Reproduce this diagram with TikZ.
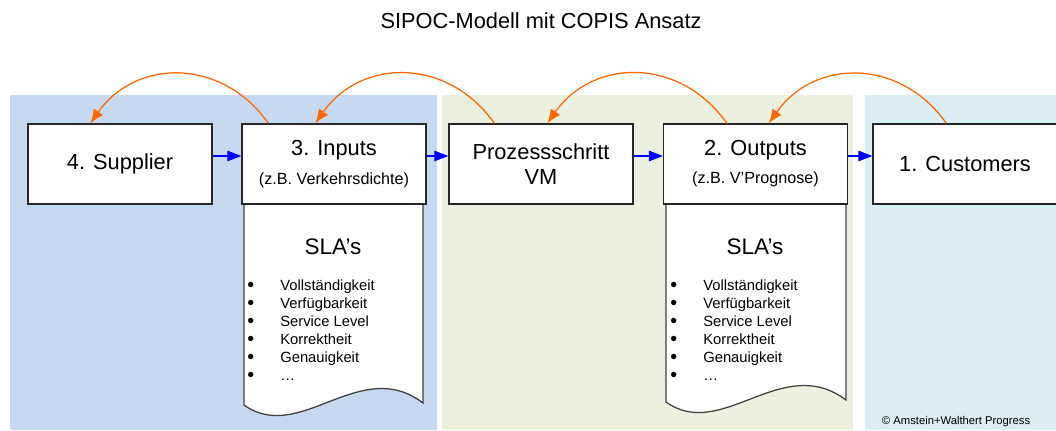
\documentclass[tikz,border=0pt]{standalone}
\usepackage{fontspec}
\setmainfont{Liberation Sans}
\usepackage{tikz}
\usetikzlibrary{arrows.meta}
\usepackage{xcolor}

\definecolor{panelblue}{RGB}{198,217,240}
\definecolor{panelgreen}{RGB}{235,241,222}
\definecolor{panelcyan}{RGB}{218,238,243}
\definecolor{copisorange}{RGB}{255,102,0}

\newcommand{\boxsub}[1]{{\fontsize{11.5}{14}\selectfont #1}}
\newcommand{\itm}{\makebox[23.5pt][l]{\raisebox{-0.5pt}{\fontsize{14}{12}\selectfont\textbullet}}}

\begin{document}
\begin{tikzpicture}[
    x=0.025cm, y=0.025cm,
    >={Triangle[length=10pt,width=7.5pt]},
    box/.style={draw=black!85, line width=0.9pt, fill=white, align=center, minimum width=4.6cm, minimum height=2cm, inner sep=0pt, font=\fontsize{15.5}{18}\selectfont},
    doc/.style={draw=black!75, line width=0.9pt, fill=white},
    flow/.style={->, blue, line width=0.8pt},
    back/.style={-{Latex[length=10pt,width=8pt]}, draw=copisorange, line width=0.9pt, out=125, in=55, looseness=1.15},
    sla/.style={font=\fontsize{16}{19}\selectfont},
    items/.style={align=left, anchor=north west, inner sep=0pt, font=\fontsize{10.5}{12.8}\selectfont}
]
\useasboundingbox (0,0) rectangle (1056,430);
\clip (0,0) rectangle (1056,430);

% background panels
\fill[panelblue] (10,0) rectangle (437,335);
\fill[panelgreen] (442,0) rectangle (853,335);
\fill[panelcyan] (865,0) rectangle (1056,335);

\node[font=\fontsize{15.5}{18}\selectfont] (title) at (541,409) {SIPOC-Modell mit COPIS Ansatz};

% SLA documents
\draw[doc] (244,226) -- (244,25) .. controls (300,-15) and (360,75) .. (423,27) -- (423,226) -- cycle;
\draw[doc] (666,226) -- (666,28) .. controls (722,-12) and (782,78) .. (846,30) -- (846,226) -- cycle;

\node[sla] (insla) at (333,183) {SLA’s};
\node[items] (inlist) at (247,150) {\itm Vollständigkeit\\\itm Verfügbarkeit\\\itm Service Level\\\itm Korrektheit\\\itm Genauigkeit\\\itm …};

\node[sla] (outsla) at (755,183) {SLA’s};
\node[items] (outlist) at (670,150) {\itm Vollständigkeit\\\itm Verfügbarkeit\\\itm Service Level\\\itm Korrektheit\\\itm Genauigkeit\\\itm …};

% process steps
\node[box] (supplier) at (120,266) {4. Supplier};
\node[box] (inputs) at (334,266) {3. Inputs\\[2pt]\boxsub{(z.B. Verkehrsdichte)}};
\node[box] (prozess) at (541,266) {Prozessschritt\\VM};
\node[box] (outputs) at (755.5,266) {2. Outputs\\[2pt]\boxsub{(z.B. V’Prognose)}};
\node[box] (customers) at (965,266) {1. Customers};

\draw[flow] ([shift={(0,8)}]supplier.east) -- ([shift={(0,8)}]inputs.west);
\draw[flow] ([shift={(0,8)}]inputs.east) -- ([shift={(0,8)}]prozess.west);
\draw[flow] ([shift={(0,8)}]prozess.east) -- ([shift={(0,8)}]outputs.west);
\draw[flow] ([shift={(0,8)}]outputs.east) -- ([shift={(0,8)}]customers.west);

% COPIS direction
\draw[back] ([shift={(27,0)}]inputs.north west) to ([shift={(63,0)}]supplier.north west);
\draw[back] ([shift={(46,0)}]prozess.north west) to ([shift={(74,0)}]inputs.north west);
\draw[back] ([shift={(64,0)}]outputs.north west) to ([shift={(99,0)}]prozess.north west);
\draw[back] ([shift={(74,0)}]customers.north west) to ([shift={(106,0)}]outputs.north west);

\node[anchor=west, font=\fontsize{8}{10}\selectfont] (copyright) at (877,8) {© Amstein+Walthert Progress};

\end{tikzpicture}
\end{document}
